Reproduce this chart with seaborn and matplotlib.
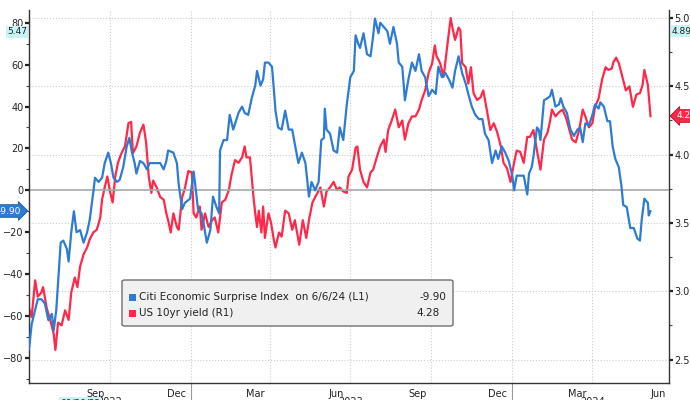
import matplotlib
matplotlib.use("Agg")
import matplotlib.pyplot as plt
import matplotlib.dates as mdates
from matplotlib.patches import Rectangle, FancyBboxPatch
from matplotlib.ticker import MultipleLocator, FormatStrFormatter
import pandas as pd
import seaborn as sns

# day offsets from the first date
start = "2022-07-01"
cesi_pts = [
    (0, -76), (3, -64), (7, -57), (10, -52), (14, -52), (18, -54), (22, -62), (26, -59), (28, -67),
    (31, -57), (33, -44), (36, -25), (39, -24), (43, -28), (45, -34), (48, -20), (51, -10), (54, -20),
    (58, -19), (62, -25), (66, -20), (69, -14), (73, -1), (75, 6), (79, 4), (83, 6), (86, 13), (90, 18),
    (93, 13), (96, 6), (100, 4), (103, 5), (107, 11), (111, 21), (114, 25), (117, 18), (120, 13),
    (122, 8), (126, 14), (130, 13), (134, 10), (137, 13), (141, 13), (145, 13), (149, 13), (153, 10),
    (156, 14), (158, 19), (164, 18), (168, 13), (170, 3), (174, -9), (177, -6), (183, -4), (187, 9),
    (189, 2), (192, -9), (196, -11), (198, -15), (202, -25), (206, -19), (209, -3), (213, -8),
    (216, -11), (217, 19), (221, 24), (225, 24), (228, 36), (232, 29), (238, 37), (242, 40), (245, 37),
    (249, 36), (253, 44), (257, 50), (259, 57), (263, 50), (266, 53), (268, 61), (272, 61), (276, 59),
    (278, 49), (280, 38), (283, 30), (287, 29), (291, 38), (295, 29), (299, 29), (302, 22), (306, 13),
    (310, 18), (314, 13), (318, -3), (321, 4), (325, 0), (329, 4), (332, 24), (335, 25), (336, 39),
    (338, 29), (342, 27), (346, 19), (350, 18), (353, 30), (357, 24), (361, 41), (365, 54), (369, 57),
    (371, 74), (374, 70), (376, 68), (380, 75), (384, 65), (388, 64), (391, 74), (393, 82), (397, 75),
    (399, 80), (403, 78), (407, 76), (410, 70), (414, 78), (418, 70), (420, 61), (424, 59), (427, 43),
    (431, 53), (435, 61), (439, 57), (443, 65), (446, 57), (450, 54), (454, 45), (458, 48), (462, 46),
    (465, 59), (469, 54), (473, 56), (477, 53), (481, 49), (484, 57), (488, 64), (492, 56), (496, 51),
    (499, 46), (503, 40), (507, 36), (511, 34), (515, 34), (518, 27), (522, 24), (526, 13), (530, 19),
    (533, 15), (537, 21), (541, 18), (545, 14), (549, 7), (551, 0), (554, 7), (558, 7), (562, 7),
    (566, -2), (568, 8), (571, 11), (573, 16), (577, 30), (579, 29), (581, 24), (585, 43), (589, 44),
    (592, 45), (594, 48), (598, 40), (602, 41), (604, 44), (607, 40), (611, 37), (615, 29), (619, 26),
    (623, 29), (626, 30), (629, 23), (632, 32), (636, 31), (640, 36), (643, 41), (647, 39), (649, 42),
    (653, 40), (657, 33), (660, 33), (663, 21), (666, 15), (670, 11), (673, 2), (675, -7), (679, -8),
    (683, -18), (687, -18), (691, -23), (694, -24), (696, -14), (699, -4), (703, -6), (704, -12),
    (706, -9.9),
]
yield_pts = [
    (0, 2.88), (3, 2.81), (7, 3.08), (10, 2.96), (14, 2.99), (16, 3.03), (20, 2.88), (24, 2.79),
    (28, 2.69), (30, 2.57), (33, 2.77), (37, 2.75), (41, 2.86), (45, 2.79), (48, 2.99), (52, 3.10),
    (55, 3.03), (58, 3.18), (62, 3.27), (66, 3.32), (69, 3.38), (73, 3.43), (77, 3.45), (81, 3.54),
    (83, 3.67), (86, 3.76), (89, 3.84), (92, 3.73), (95, 3.65), (98, 3.84), (101, 3.94), (105, 4.01),
    (109, 4.06), (113, 4.23), (116, 4.24), (118, 4.01), (122, 4.06), (126, 4.16), (130, 4.22),
    (133, 4.09), (136, 3.84), (139, 3.72), (141, 3.81), (145, 3.76), (149, 3.69), (153, 3.67),
    (156, 3.57), (158, 3.52), (161, 3.43), (164, 3.57), (168, 3.47), (170, 3.45), (174, 3.69),
    (177, 3.75), (181, 3.88), (185, 3.87), (187, 3.57), (190, 3.54), (194, 3.62), (196, 3.45),
    (200, 3.57), (204, 3.47), (208, 3.52), (211, 3.54), (215, 3.43), (219, 3.65), (223, 3.67),
    (227, 3.74), (230, 3.85), (234, 3.96), (238, 3.94), (242, 3.98), (245, 4.06), (247, 3.98),
    (251, 3.98), (255, 3.69), (257, 3.57), (259, 3.47), (261, 3.59), (264, 3.43), (266, 3.62),
    (268, 3.39), (272, 3.57), (275, 3.50), (278, 3.38), (280, 3.32), (284, 3.43), (287, 3.40),
    (291, 3.59), (295, 3.57), (299, 3.45), (302, 3.52), (307, 3.34), (311, 3.52), (315, 3.39),
    (318, 3.52), (322, 3.65), (326, 3.70), (331, 3.76), (335, 3.62), (338, 3.73), (342, 3.76),
    (346, 3.80), (350, 3.74), (353, 3.76), (357, 3.73), (361, 3.72), (363, 3.84), (367, 3.89),
    (371, 4.05), (373, 4.06), (376, 3.89), (380, 3.80), (384, 3.76), (388, 3.87), (391, 3.89),
    (395, 3.98), (399, 4.06), (403, 4.11), (405, 4.02), (408, 4.18), (412, 4.25), (416, 4.33),
    (420, 4.20), (424, 4.25), (427, 4.11), (431, 4.23), (435, 4.28), (439, 4.28), (443, 4.33),
    (446, 4.40), (450, 4.47), (454, 4.60), (458, 4.67), (461, 4.80), (463, 4.72), (467, 4.67),
    (471, 4.57), (475, 4.79), (479, 5.00), (481, 4.93), (484, 4.84), (488, 4.93), (490, 4.91),
    (492, 4.67), (496, 4.64), (499, 4.52), (502, 4.64), (505, 4.45), (509, 4.40), (513, 4.42),
    (516, 4.47), (520, 4.33), (524, 4.18), (528, 4.23), (532, 4.16), (536, 4.06), (539, 3.94),
    (543, 3.90), (547, 3.80), (551, 3.94), (554, 4.03), (558, 4.02), (562, 3.94), (566, 4.13),
    (569, 4.13), (573, 4.18), (577, 4.03), (581, 3.89), (585, 4.11), (589, 4.16), (592, 4.25),
    (594, 4.33), (598, 4.28), (602, 4.31), (606, 4.33), (610, 4.27), (613, 4.20), (617, 4.11),
    (621, 4.09), (625, 4.18), (629, 4.33), (632, 4.28), (636, 4.20), (640, 4.23), (643, 4.35),
    (647, 4.41), (651, 4.55), (655, 4.64), (658, 4.62), (662, 4.63), (664, 4.68), (667, 4.71),
    (670, 4.67), (674, 4.57), (678, 4.47), (682, 4.50), (686, 4.35), (690, 4.44), (694, 4.45),
    (697, 4.51), (699, 4.62), (703, 4.51), (706, 4.28),
]

month_labels = ["Sep", "Dec", "Mar", "Jun", "Sep", "Dec", "Mar", "Jun"]
month_label_dates = ["2022-09-15", "2022-12-15", "2023-03-15", "2023-06-15",
                     "2023-09-15", "2023-12-15", "2024-03-15", "2024-06-15"]
grid_dates = ["2022-10-01", "2023-01-01", "2023-04-01", "2023-07-01",
              "2023-10-01", "2024-01-01", "2024-04-01"]
year_labels = ["2022", "2023", "2024"]
year_label_dates = ["2022-10-01", "2023-07-01", "2024-04-01"]
year_breaks = ["2023-01-01", "2024-01-01"]

BLUE = "#2d7bd3"
RED = "#ff2848"
W, H = 690, 400


def to_df(pts, name):
    days, vals = zip(*pts)
    dates = pd.Timestamp(start) + pd.to_timedelta(list(days), unit="D")
    return pd.DataFrame({"date": dates, name: vals})


def px(x, y):
    return x / W, 1 - y / H


cesi = to_df(cesi_pts, "cesi")
ust = to_df(yield_pts, "ust")

sns.set_style("white")
plt.rcParams["font.family"] = ["DejaVu Sans"]

fig = plt.figure(figsize=(W / 100, H / 100), dpi=100)
ax = fig.add_axes([29 / W, 1 - 383 / H, 640 / W, 373 / H])
ax2 = ax.twinx()
ax.set_zorder(ax2.get_zorder() + 1)
ax.patch.set_visible(False)

# grid lives on the back axis
ax2.grid(axis="y", which="major", ls=":", color="#cccccc", lw=0.8)
for d in grid_dates:
    ax2.axvline(pd.Timestamp(d), ls=":", color="#cccccc", lw=0.8, zorder=0)

sns.lineplot(data=ust, x="date", y="ust", ax=ax2, color=RED, lw=1.6)
ax.axhline(0, color="#a8a8a8", lw=1.2, zorder=1)
sns.lineplot(data=cesi, x="date", y="cesi", ax=ax, color=BLUE, lw=1.6, zorder=3)

ax.set_xlim(pd.Timestamp("2022-07-01"), pd.Timestamp("2024-06-27"))
ax.set_ylim(-92, 86.1)
ax2.set_ylim(2.328, 5.059)
for a in (ax, ax2):
    a.set_xlabel("")
    a.set_ylabel("")
    a.spines["top"].set_visible(False)
    for s in ("left", "right", "bottom"):
        a.spines[s].set_color("#333333")
        a.spines[s].set_linewidth(1)
ax.spines["right"].set_visible(False)
ax2.spines["left"].set_visible(False)
ax2.spines["bottom"].set_visible(False)

ax.yaxis.set_major_locator(MultipleLocator(20))
ax.yaxis.set_minor_locator(MultipleLocator(10))
ax2.yaxis.set_major_locator(MultipleLocator(0.5))
ax2.yaxis.set_minor_locator(MultipleLocator(0.25))
ax2.yaxis.set_major_formatter(FormatStrFormatter("%.2f"))
for a in (ax, ax2):
    a.tick_params(axis="y", which="major", direction="out", length=3, width=1.6,
                  color="#222222", labelsize=7, labelcolor="#222222", pad=1)
    a.tick_params(axis="y", which="minor", direction="out", length=2, width=0.8, color="#444444")
ax.tick_params(axis="y", left=True, right=False)
ax2.tick_params(axis="y", left=False, right=True)

ax.set_xticks([pd.Timestamp(d) for d in month_label_dates])
ax.set_xticklabels(month_labels)
ax.xaxis.set_minor_locator(mdates.MonthLocator())
ax.tick_params(axis="x", which="major", length=0, labelsize=7, labelcolor="#222222", pad=4)
ax.tick_params(axis="x", which="minor", direction="out", length=3, width=0.8, color="#444444")

# year row under the month labels, mostly cut off at the bottom edge
for d in year_breaks:
    ax.plot([pd.Timestamp(d)] * 2, [0, -0.06], transform=ax.get_xaxis_transform(),
            clip_on=False, color="#999999", lw=0.8)
for lab, d in zip(year_labels, year_label_dates):
    ax.text(pd.Timestamp(d), -0.038, lab, transform=ax.get_xaxis_transform(),
            ha="center", va="top", fontsize=7, color="#222222")
fig.text(*px(80, 403), "09/20/22", ha="center", va="center", fontsize=6.5, color="#222222",
         bbox=dict(boxstyle="square,pad=0.15", fc="#c9f4f7", ec="none"))

# value tags on the axes
fig.text(*px(27, 32), "5.47", ha="right", va="center", fontsize=6.5, color="#222222",
         bbox=dict(boxstyle="square,pad=0.15", fc="#c9f4f7", ec="none"))
fig.text(*px(21, 211), "-9.90", ha="right", va="center", fontsize=6.5, color="white",
         bbox=dict(boxstyle="rarrow,pad=0.2", fc=BLUE, ec="#1d5aa0", lw=0.6))
fig.text(*px(672, 31), "4.89", ha="left", va="center", fontsize=6.5, color="#222222",
         bbox=dict(boxstyle="square,pad=0.15", fc="#c9f4f7", ec="none"))
fig.text(*px(677, 116), "4.28", ha="left", va="center", fontsize=6.5, color="white",
         bbox=dict(boxstyle="larrow,pad=0.2", fc=RED, ec="#b0102a", lw=0.6))

# legend box
x0, y0 = px(122, 326)
fig.patches.append(FancyBboxPatch((x0, y0), 331 / W, 46 / H, boxstyle="round,pad=0,rounding_size=0.004",
                                  transform=fig.transFigure, fc="#f0f0f0", ec="#707070", lw=1))
for color, y in ((BLUE, 297), (RED, 313)):
    sx, sy = px(129, y + 3.5)
    fig.patches.append(Rectangle((sx, sy), 7 / W, 7 / H, transform=fig.transFigure, fc=color, ec="none"))
fig.text(*px(139, 297), "Citi Economic Surprise Index  on 6/6/24 (L1)", ha="left", va="center",
         fontsize=7.5, color="#222222")
fig.text(*px(446, 297), "-9.90", ha="right", va="center", fontsize=7.5, color="#222222")
fig.text(*px(139, 313), "US 10yr yield (R1)", ha="left", va="center", fontsize=7.5, color="#222222")
fig.text(*px(440, 313), "4.28", ha="right", va="center", fontsize=7.5, color="#222222")

fig.savefig("out.png", dpi=100)
